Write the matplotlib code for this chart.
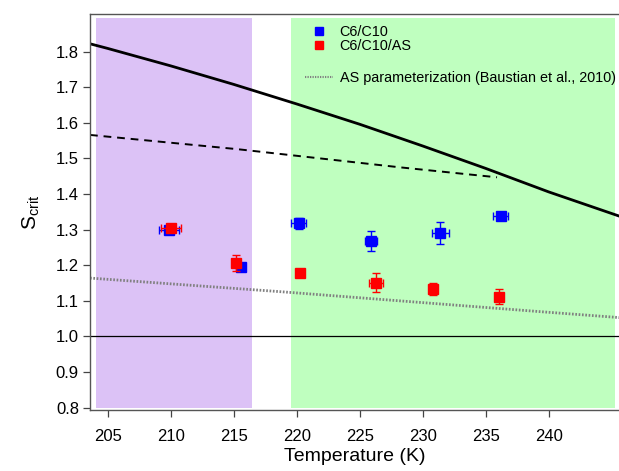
import matplotlib
matplotlib.use("Agg")
import matplotlib.pyplot as plt
from matplotlib.lines import Line2D

plt.rcParams['font.family'] = ['Liberation Sans', 'DejaVu Sans']
plt.rcParams['mathtext.fontset'] = 'custom'
plt.rcParams['mathtext.rm'] = 'Liberation Sans'

# ---------------- DATA ----------------
# C6/C10 (blue)
t_c6c10 = [209.9, 215.6, 220.15, 225.9, 231.4, 236.2]
s_c6c10 = [1.300, 1.196, 1.318, 1.269, 1.290, 1.339]
xerr_c6c10 = [0.8, 0.25, 0.6, 0.5, 0.65, 0.6]
yerr_c6c10 = [0.010, 0.010, 0.016, 0.028, 0.031, 0.006]

# C6/C10/AS (red)
t_as = [210.05, 215.2, 220.3, 226.3, 230.8, 236.05]
s_as = [1.304, 1.206, 1.178, 1.151, 1.133, 1.112]
xerr_as = [0.8, 0.2, 0.1, 0.53, 0.2, 0.3]
yerr_as = [0.010, 0.022, 0.008, 0.027, 0.017, 0.020]

# solid curve (upper)
t_solid = [203.6, 205, 210, 215, 220, 225, 230, 235, 240, 245.6]
s_solid = [1.822, 1.809, 1.760, 1.708, 1.653, 1.596, 1.535, 1.472, 1.406, 1.338]

# dashed curve
t_dash = [203.6, 215.3, 228.2, 235.9]
s_dash = [1.566, 1.526, 1.475, 1.447]

# AS parameterization (Baustian et al., 2010)
t_param = [203.6, 219.0, 239.2, 245.6]
s_param = [1.164, 1.125, 1.070, 1.053]

# shaded regions
purple_span = (204.08, 216.45)
green_span = (219.55, 245.3)
span_y = (0.8, 1.895)

xticks = [205, 210, 215, 220, 225, 230, 235, 240]
yticks = [0.8, 0.9, 1.0, 1.1, 1.2, 1.3, 1.4, 1.5, 1.6, 1.7, 1.8]

# ---------------- PLOT ----------------
fig = plt.figure(figsize=(6.19, 4.71), dpi=100)
ax = fig.add_axes([0.1454, 0.1285, 0.8546, 0.8428])

ax.fill_between(purple_span, span_y[0], span_y[1], color='#dcc2f6', lw=0, zorder=0)
ax.fill_between(green_span, span_y[0], span_y[1], color='#bfffbf', lw=0, zorder=0)

ax.axhline(1.0, color='black', lw=0.9, zorder=1)
ax.plot(t_solid, s_solid, color='black', lw=2.0, zorder=2)
ax.plot(t_dash, s_dash, color='black', lw=1.4, ls=(0, (4, 3)), zorder=2)
ax.plot(t_param, s_param, color='#808080', lw=2.0, ls=(0, (0.6, 0.6)), zorder=2)

ax.errorbar(t_c6c10, s_c6c10, xerr=xerr_c6c10, yerr=yerr_c6c10, fmt='s',
            color='#0000ff', ms=6.5, mec='#0000ff', elinewidth=1.0, capsize=3,
            capthick=1.0, zorder=3)
ax.errorbar(t_as, s_as, xerr=xerr_as, yerr=yerr_as, fmt='s',
            color='#ff0000', ms=7, mec='#ff0000', elinewidth=1.0, capsize=3,
            capthick=1.0, zorder=4)

ax.set_xlim(203.6, 245.58)
ax.set_ylim(0.7921, 1.907)
ax.set_xticks(xticks)
ax.set_yticks(yticks)
ax.set_yticklabels([f"{v:.1f}" for v in yticks])
ax.tick_params(direction='out', length=5, width=0.9, labelsize=12, color='#444444')
ax.tick_params(axis='x', pad=8)
ax.tick_params(axis='y', pad=3)
ax.spines['right'].set_visible(False)
for sp in ['left', 'bottom', 'top']:
    ax.spines[sp].set_color('#555555')
    ax.spines[sp].set_linewidth(1.0)

ax.set_xlabel("Temperature (K)", fontsize=14, labelpad=3)
ax.set_ylabel(r"S$_{\mathrm{crit}}$", fontsize=15, labelpad=10)

# legend: markers
h_pts = [
    Line2D([], [], ls='none', marker='s', color='#0000ff', ms=6),
    Line2D([], [], ls='none', marker='s', color='#ff0000', ms=6),
]
leg1 = ax.legend(h_pts, ["C6/C10", "C6/C10/AS"], loc='center left',
                 bbox_to_anchor=(305 / 619, 1 - 38.7 / 471), bbox_transform=fig.transFigure,
                 frameon=False, fontsize=10.4, handlelength=1.95, handletextpad=0.45,
                 labelspacing=0.0, borderpad=0, borderaxespad=0)
ax.add_artist(leg1)

# legend: parameterization line
h_line = [Line2D([], [], color='#808080', lw=1.5, ls=(0, (0.6, 0.6)))]
ax.legend(h_line, ["AS parameterization (Baustian et al., 2010)"], loc='center left',
          bbox_to_anchor=(305 / 619, 1 - 78 / 471), bbox_transform=fig.transFigure,
          frameon=False, fontsize=10.4, handlelength=1.95, handletextpad=0.45,
          borderpad=0, borderaxespad=0)

fig.savefig("out.png", dpi=100)
